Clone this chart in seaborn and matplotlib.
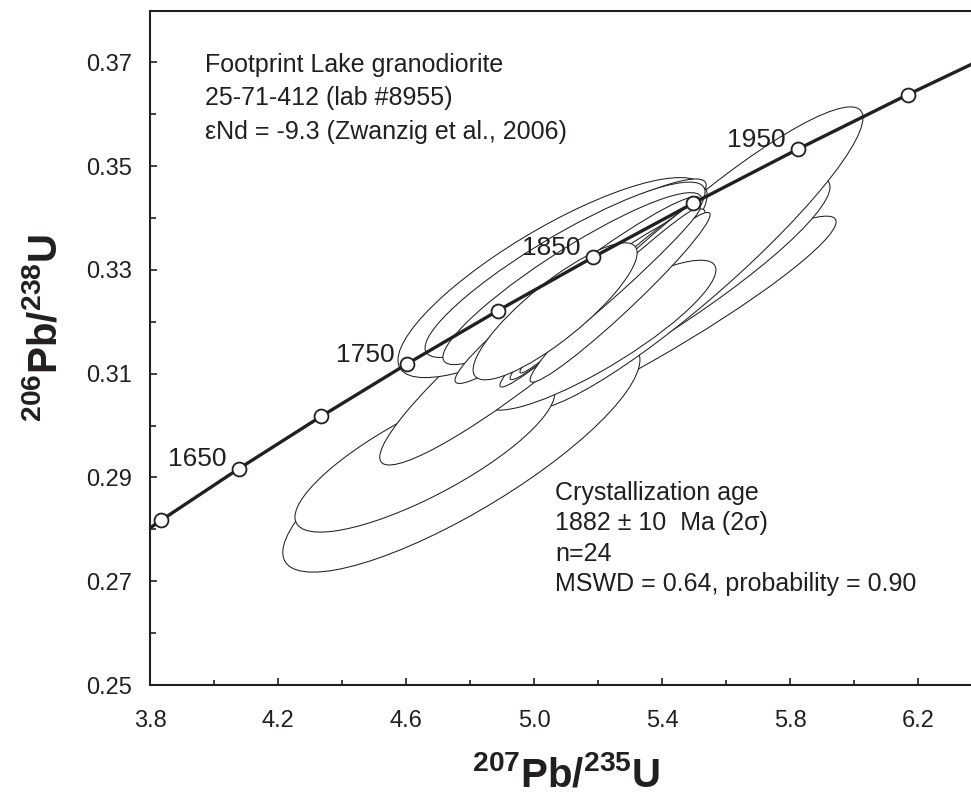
import numpy as np
import pandas as pd
import matplotlib
matplotlib.use("Agg")
import matplotlib.pyplot as plt
import seaborn as sns
from matplotlib.patches import Ellipse
from matplotlib import font_manager

# concordia curve, tabulated every 50 Ma
conc_age = [1550, 1600, 1650, 1700, 1750, 1800, 1850, 1900, 1950, 2000, 2050]
conc_x = [3.6021, 3.8344, 4.0784, 4.3348, 4.6040, 4.8869, 5.1840, 5.4962, 5.8240, 6.1686, 6.5303]
conc_y = [0.27181, 0.28172, 0.29171, 0.30176, 0.31190, 0.32212, 0.33240, 0.34278, 0.35323, 0.36377, 0.37439]
label_ages = [1650, 1750, 1850, 1950]

# error ellipses (2 sigma): centre, half-widths and rho, drawn bottom to top
ell_x = [5.372, 5.316, 4.773, 5.492, 4.659, 5.206, 5.023, 5.058, 5.169, 5.097,
         5.120, 5.136, 5.198, 5.206, 5.219, 5.242, 5.269, 5.269, 5.066]
ell_y = [0.3192, 0.3235, 0.2941, 0.3322, 0.2943, 0.3174, 0.3180, 0.3285, 0.3343, 0.3300,
         0.3283, 0.3261, 0.3264, 0.3251, 0.3253, 0.3269, 0.3247, 0.3280, 0.3220]
ell_sx = [0.572, 0.609, 0.558, 0.536, 0.406, 0.3625, 0.505, 0.483, 0.369, 0.4375,
          0.4047, 0.3828, 0.336, 0.3125, 0.2938, 0.2859, 0.2813, 0.250, 0.2563]
ell_sy = [0.02114, 0.02443, 0.02235, 0.02919, 0.01484, 0.01445, 0.02561, 0.01927, 0.0132, 0.0169,
          0.01657, 0.0180, 0.01534, 0.01769, 0.01647, 0.01678, 0.01636, 0.01407, 0.0132]
ell_rho = [0.948, 0.919, 0.83, 0.927, 0.805, 0.87, 0.941, 0.825, 0.912, 0.889,
           0.913, 0.964, 0.961, 0.981, 0.982, 0.987, 0.972, 0.986, 0.854]

x_ticks = [3.8, 4.2, 4.6, 5.0, 5.4, 5.8, 6.2]
x_minor = [4.0, 4.4, 4.8, 5.2, 5.6, 6.0]
y_ticks = [0.25, 0.27, 0.29, 0.31, 0.33, 0.35, 0.37]
y_minor = [0.26, 0.28, 0.30, 0.32, 0.34, 0.36]

sample_text = ["Footprint Lake granodiorite",
               "25-71-412 (lab #8955)",
               "εNd = -9.3 (Zwanzig et al., 2006)"]
age_text = ["Crystallization age",
            "1882 ± 10  Ma (2σ)",
            "n=24",
            "MSWD = 0.64, probability = 0.90"]

ink = "#231f20"

sns.set_theme(style="ticks")
plt.rcParams["font.family"] = ["Liberation Sans", "DejaVu Sans"]

names = {f.name for f in font_manager.fontManager.ttflist}
narrow = "Liberation Sans Narrow" if "Liberation Sans Narrow" in names else "Liberation Sans"
lab_size = 35 if narrow == "Liberation Sans Narrow" else 29
plt.rcParams["mathtext.fontset"] = "custom"
plt.rcParams["mathtext.bf"] = narrow + ":bold"
plt.rcParams["mathtext.rm"] = narrow + ":bold"
plt.rcParams["mathtext.default"] = "bf"

fig = plt.figure(figsize=(9.71, 8.0), dpi=100)
ax = fig.add_axes([150 / 971, 115 / 800, 821 / 971, 674 / 800])

for x, y, sx, sy, r in zip(ell_x, ell_y, ell_sx, ell_sy, ell_rho):
    cov = np.array([[sx * sx, r * sx * sy], [r * sx * sy, sy * sy]])
    vals, vecs = np.linalg.eigh(cov)
    ang = np.degrees(np.arctan2(vecs[1, 1], vecs[0, 1]))
    ax.add_patch(Ellipse((x, y), 2 * np.sqrt(vals[1]), 2 * np.sqrt(vals[0]), angle=ang,
                         facecolor="white", edgecolor=ink, lw=0.75, zorder=2))

conc = pd.DataFrame({"age": conc_age, "x": conc_x, "y": conc_y})
sns.lineplot(data=conc, x="x", y="y", sort=False, color=ink, lw=2.4, ax=ax, zorder=5)
marks = conc[conc["age"].between(1600, 2000)]
sns.scatterplot(data=marks, x="x", y="y", s=100, color="white", edgecolor=ink,
                linewidth=1.3, zorder=6, ax=ax, legend=False)

for a in label_ages:
    row = conc[conc["age"] == a].iloc[0]
    ax.annotate(str(a), (row["x"], row["y"]), xytext=(-30, 6.5), textcoords="offset points",
                ha="center", va="center", fontsize=19, color=ink, zorder=7)

for txt, yb in zip(sample_text, [0.36811, 0.36166, 0.3552]):
    ax.text(3.972, yb, txt, fontsize=18, color=ink, va="baseline", ha="left", zorder=7)
for txt, yb in zip(age_text, [0.28565, 0.27977, 0.27389, 0.26802]):
    ax.text(5.066, yb, txt, fontsize=18, color=ink, va="baseline", ha="left", zorder=7)

ax.set_xlim(3.8, 3.8 + 821 / 320)
ax.set_ylim(0.25, 0.25 + 674 / 5190)
ax.set_xticks(x_ticks)
ax.set_xticks(x_minor, minor=True)
ax.set_yticks(y_ticks)
ax.set_yticks(y_minor, minor=True)
ax.set_xticklabels([f"{v:.1f}" for v in x_ticks])
ax.set_yticklabels([f"{v:.2f}" for v in y_ticks])
ax.tick_params(which="both", direction="in", colors=ink, width=1.2, labelsize=17)
ax.tick_params(axis="x", which="major", length=5, pad=18)
ax.tick_params(axis="x", which="minor", length=3.4)
ax.tick_params(axis="y", which="major", length=5, pad=13)
ax.tick_params(axis="y", which="minor", length=4.3)
for s in ["left", "bottom", "top"]:
    ax.spines[s].set_linewidth(1.5)
    ax.spines[s].set_color(ink)
ax.spines["right"].set_visible(False)

ax.set_xlabel(r"$^{207}$Pb/$^{235}$U", fontsize=lab_size, fontweight="bold",
              family=[narrow, "DejaVu Sans"], color=ink)
ax.set_ylabel(r"$^{206}$Pb/$^{238}$U", fontsize=lab_size, fontweight="bold",
              family=[narrow, "DejaVu Sans"], color=ink)
ax.xaxis.set_label_coords(0.5067, -0.104)
ax.yaxis.set_label_coords(-0.104, 0.53)

fig.savefig("out.png", dpi=100, facecolor="white")
